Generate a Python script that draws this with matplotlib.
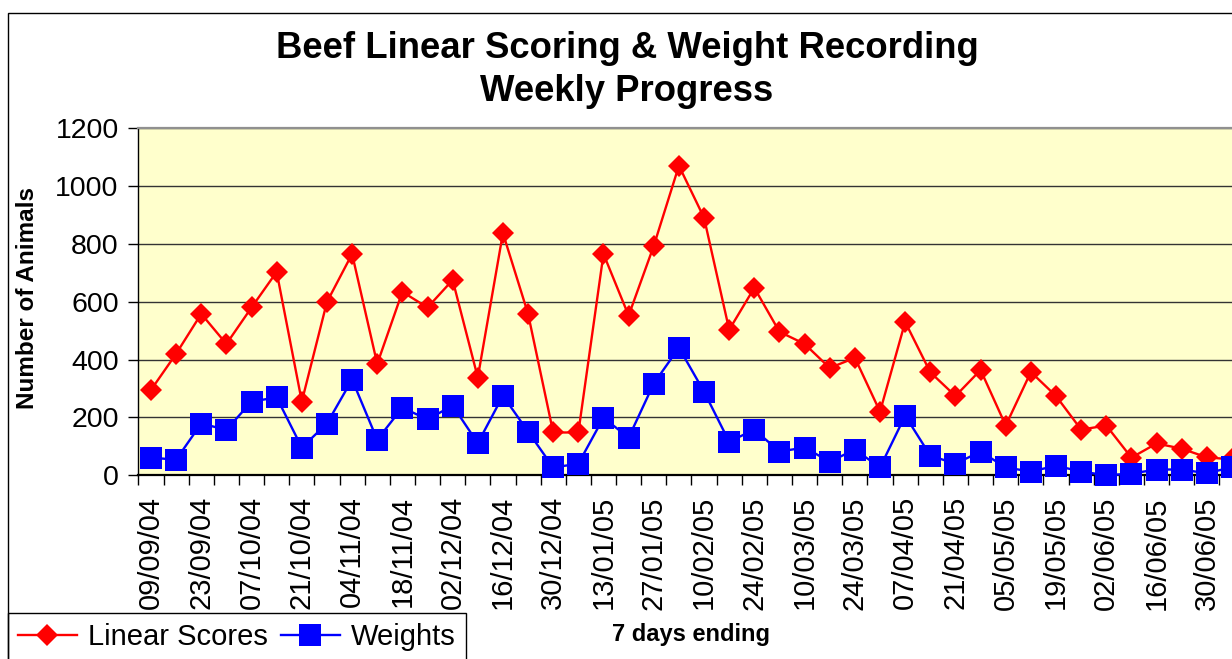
import numpy as np
import pandas as pd
import matplotlib
matplotlib.use("Agg")
from matplotlib import pyplot as plt
from matplotlib.patches import Rectangle

matplotlib.rcParams['font.family'] = ['Liberation Sans', 'DejaVu Sans']

######################################################
# Data (weeks ending)
######################################################
weeks = pd.date_range('2004-09-09', periods=44, freq='7D')
week_labels = [d.strftime('%d/%m/%y') for d in weeks]

linear_scores = [295, 420, 558, 454, 580, 703, 255, 599, 765, 385,
                 634, 580, 675, 338, 837, 558, 148, 148, 765, 552,
                 793, 1070, 890, 503, 648, 496, 454, 371, 406, 220,
                 530, 356, 274, 364, 172, 357, 274, 158, 172, 61,
                 110, 92, 62, 55]
weights = [61, 54, 179, 157, 255, 269, 96, 179, 331, 123,
           234, 193, 241, 111, 275, 151, 27, 40, 199, 130,
           317, 441, 289, 116, 158, 82, 96, 47, 89, 27,
           206, 68, 40, 82, 27, 13, 33, 13, 0, 6,
           20, 20, 7, 28]

yticks = [0, 200, 400, 600, 800, 1000, 1200]

######################################################
# Plot
######################################################
W, H = 1232.0, 659.0
fig = plt.figure(figsize=(W / 100, H / 100), dpi=100)
fig.patch.set_facecolor('white')

# outer chart border (runs off the right and bottom of the picture)
fig.patches.append(Rectangle((8 / W, -0.1), 1.2, (1 - 12.5 / H) + 0.1,
                             transform=fig.transFigure, fill=False,
                             edgecolor='black', linewidth=1))

n = len(weeks)
ax_left, ax_top, ax_bot = 138.4, 128.1, 475.3
ax_w = n * 25.14
ax = fig.add_axes([ax_left / W, 1 - ax_bot / H, ax_w / W, (ax_bot - ax_top) / H])
ax.set_facecolor('#FFFFCC')

x = np.arange(n)
ax.plot(x, linear_scores, color='red', linewidth=1.7, marker='D',
        markersize=11.5, markeredgewidth=0, label='Linear Scores', clip_on=False, zorder=4)
ax.plot(x, weights, color='blue', linewidth=1.7, marker='s',
        markersize=15.5, markeredgewidth=0, label='Weights', clip_on=False, zorder=5)

ax.set_xlim(-0.5, n - 0.5)
ax.set_ylim(0, 1200)
ax.set_yticks(yticks)
ax.tick_params(axis='y', direction='out', length=7.2, width=1, labelsize=20.5, pad=7)
ax.yaxis.grid(True, color='#333333', linewidth=1)
ax.set_axisbelow(True)

# ticks between categories, labels on every other category
ax.set_xticks(np.arange(n + 1) - 0.5)
ax.set_xticklabels([])
ax.tick_params(axis='x', which='major', direction='out', length=7.2, width=1)
ax.set_xticks(x[::2], minor=True)
ax.set_xticklabels(week_labels[::2], minor=True, rotation=90, fontsize=21)
ax.tick_params(axis='x', which='minor', length=0, pad=15)

for side in ['left', 'bottom']:
    ax.spines[side].set_color('black')
ax.spines['left'].set_linewidth(1)
ax.spines['bottom'].set_linewidth(1.6)
ax.spines['top'].set_color('#909090')
ax.spines['top'].set_linewidth(1.6)
ax.spines['right'].set_visible(False)

ax.set_ylabel('Number of Animals', fontsize=17.5, fontweight='bold')
ax.yaxis.set_label_coords((39 - ax_left) / ax_w, 0.51)
ax.set_xlabel('7 days ending', fontsize=17, fontweight='bold')
ax.xaxis.set_label_coords(0.5, (ax_bot - 623) / (ax_bot - ax_top))

fig.text(627 / W, 1 - 70 / H, 'Beef Linear Scoring & Weight Recording\nWeekly Progress',
         ha='center', va='center', fontsize=26.3, fontweight='bold', linespacing=1.3)

leg = ax.legend(loc='upper left', bbox_to_anchor=(8 / W, 1 - 613 / H),
                bbox_transform=fig.transFigure, ncol=2, fontsize=21,
                frameon=True, fancybox=False, edgecolor='black', framealpha=1,
                borderaxespad=0, handlelength=2.0, handletextpad=0.4,
                columnspacing=0.45, borderpad=0.35)
leg.get_frame().set_linewidth(1)

fig.savefig('out.png', dpi=100)
